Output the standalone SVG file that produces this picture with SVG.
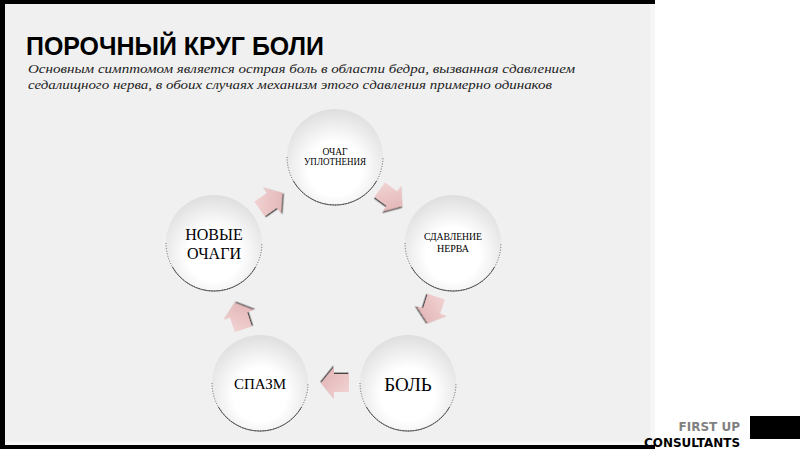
<svg xmlns="http://www.w3.org/2000/svg" width="800" height="449" viewBox="0 0 800 449">
<defs>
<radialGradient id="cg" cx="50%" cy="62%" r="62%">
<stop offset="0" stop-color="#ffffff"/>
<stop offset="0.45" stop-color="#ffffff"/>
<stop offset="1" stop-color="#dedede"/>
</radialGradient>
<linearGradient id="ag" x1="0" y1="0" x2="1" y2="1">
<stop offset="0" stop-color="#f3d6d6"/>
<stop offset="1" stop-color="#e0b0b2"/>
</linearGradient>
<filter id="sh" x="-30%" y="-30%" width="160%" height="160%">
<feDropShadow dx="0.6" dy="1.4" stdDeviation="0.4" flood-color="#333" flood-opacity="0.9"/>
</filter>
<g id="ring">
<circle r="48" fill="url(#cg)"/>
<path d="M-48 0 A48 48 0 0 0 48 0" fill="none" stroke="#444" stroke-width="0.8" stroke-dasharray="1 1.6"/>
<path d="M-41.6 24 A48 48 0 0 0 41.6 24" fill="none" stroke="#444" stroke-width="0.9"/>
</g>
<polygon id="arr" points="-14,-9 1,-9 1,-16 14,0 1,16 1,9 -14,9" fill="url(#ag)" filter="url(#sh)"/>
</defs>
<style>
.sv{font-family:"Liberation Serif","DejaVu Serif",serif;fill:#000;text-anchor:middle}
</style>
<rect x="0" y="0" width="655" height="449" fill="#000"/>
<rect x="5" y="4" width="645" height="438" fill="#f0f0f0"/>
<rect x="650" y="4" width="5" height="440" fill="#f6f6f6"/>
<rect x="5" y="442" width="650" height="3" fill="#f8f8f8"/>
<rect x="655" y="0" width="145" height="449" fill="#fff"/>
<rect x="750" y="416" width="50" height="23" fill="#000"/>
<text x="26" y="55" font-family="Liberation Sans, Arial, sans-serif" font-weight="bold" font-size="26" textLength="298" lengthAdjust="spacingAndGlyphs" fill="#000">ПОРОЧНЫЙ КРУГ БОЛИ</text>
<text x="28" y="73" font-family="Liberation Serif, serif" font-style="italic" font-size="12.5" textLength="547" lengthAdjust="spacingAndGlyphs" fill="#222">Основным симптомом является острая боль в области бедра, вызванная сдавлением</text>
<text x="28" y="89" font-family="Liberation Serif, serif" font-style="italic" font-size="12.5" textLength="524" lengthAdjust="spacingAndGlyphs" fill="#222">седалищного нерва, в обоих случаях механизм этого сдавления примерно одинаков</text>
<g id="connectors">
<use href="#arr" transform="translate(271,201) rotate(-35)"/>
<use href="#arr" transform="translate(391,198) rotate(36)"/>
<use href="#arr" transform="translate(432,310) rotate(108)"/>
<use href="#arr" transform="translate(335,383) rotate(180)"/>
<use href="#arr" transform="translate(239,316) rotate(-108)"/>
</g>
<g id="n-ochag" transform="translate(335,157)">
<use href="#ring"/>
<text class="sv" y="-2" font-size="9.5">ОЧАГ</text>
<text class="sv" y="8" font-size="9.5" textLength="62" lengthAdjust="spacingAndGlyphs">УПЛОТНЕНИЯ</text>
</g>
<g id="n-sdavlenie" transform="translate(453,243)">
<use href="#ring"/>
<text class="sv" y="-3" font-size="10" textLength="58" lengthAdjust="spacingAndGlyphs">СДАВЛЕНИЕ</text>
<text class="sv" y="9" font-size="10">НЕРВА</text>
</g>
<g id="n-bol" transform="translate(408,383)">
<use href="#ring"/>
<text class="sv" y="8" font-size="19">БОЛЬ</text>
</g>
<g id="n-spazm" transform="translate(260,383)">
<use href="#ring"/>
<text class="sv" y="6" font-size="15">СПАЗМ</text>
</g>
<g id="n-novye" transform="translate(214,243)">
<use href="#ring"/>
<text class="sv" y="-3" font-size="16">НОВЫЕ</text>
<text class="sv" y="16" font-size="16">ОЧАГИ</text>
</g>
<text x="740" y="431" font-family="DejaVu Sans, sans-serif" font-weight="bold" font-size="12" text-anchor="end" fill="#808080">FIRST UP</text>
<text x="740" y="447" font-family="DejaVu Sans, sans-serif" font-weight="bold" font-size="12" text-anchor="end" textLength="96" lengthAdjust="spacingAndGlyphs" fill="#000">CONSULTANTS</text>
</svg>
